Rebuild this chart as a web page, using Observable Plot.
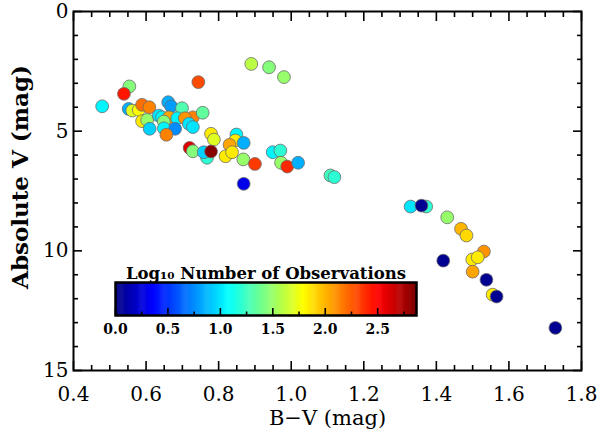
<!DOCTYPE html>
<html><head><meta charset="utf-8">
<script src="https://cdn.jsdelivr.net/npm/d3@7"></script>
<script src="https://cdn.jsdelivr.net/npm/@observablehq/plot@0.6"></script>
<style>
body{margin:0;background:#fff;}
#wrap{position:relative;width:602px;height:436px;overflow:hidden;}
#cbar{position:absolute;left:100px;top:252px;}
svg{overflow:visible;}
</style></head><body><div id="wrap"><div id="main"></div><div id="cbar"></div></div>
<script>
// B-V colour index (mag)
const bv = [0.479,0.554,0.539,0.744,0.552,0.562,0.580,0.589,0.609,0.589,0.603,0.610,0.635,0.661,0.669,0.699,0.729,0.756,0.644,0.663,0.686,0.649,0.707,0.718,0.729,0.649,0.680,0.656,0.779,0.787,0.720,0.729,0.768,0.759,0.779,0.849,0.846,0.869,0.830,0.819,0.837,0.868,0.900,0.869,0.890,0.939,0.980,0.949,0.970,0.972,0.989,1.019,1.108,1.119,1.329,1.372,1.359,1.430,1.468,1.483,1.531,1.499,1.514,1.500,1.419,1.538,1.555,1.566,1.728];
// Absolute V (mag)
const mv = [3.96,3.13,3.44,2.95,4.07,4.14,4.11,3.90,4.00,4.58,4.53,4.90,4.35,3.79,3.96,4.04,4.42,4.23,4.42,4.42,4.46,4.60,4.46,4.69,4.83,4.88,4.90,5.15,5.11,5.35,5.70,5.84,6.11,5.88,5.85,5.14,5.39,5.49,5.57,6.05,5.88,6.18,6.37,7.20,2.19,2.33,2.74,5.88,5.81,6.32,6.48,6.32,6.85,6.92,8.15,8.15,8.11,8.60,9.08,9.36,10.03,10.36,10.27,10.87,10.41,11.21,11.83,11.91,13.22];
// log10 number of observations
const logN = [1.05,1.45,2.45,2.30,0.85,1.70,1.80,2.20,2.15,1.85,1.50,0.95,1.00,0.85,0.80,1.30,2.15,1.35,1.05,2.05,1.05,1.45,2.10,1.00,1.00,1.05,0.75,2.15,1.85,1.70,2.60,1.45,1.20,0.95,2.85,1.05,1.85,0.85,2.05,1.85,1.85,1.50,2.35,0.30,1.60,1.45,1.50,1.05,1.20,1.50,2.40,0.85,1.25,1.20,1.00,1.20,0.05,1.50,2.00,1.90,2.10,1.85,1.85,2.05,0.05,0.05,1.85,0.05,0.05];

const xMajor = [0.4,0.6,0.8,1.0,1.2,1.4,1.6,1.8];
const xMinor = [0.45,0.5,0.55,0.65,0.7,0.75,0.85,0.9,0.95,1.05,1.1,1.15,1.25,1.3,1.35,1.45,1.5,1.55,1.65,1.7,1.75];
const yMajor = [0,5,10,15];
const yMinor = [1,2,3,4,6,7,8,9,11,12,13,14];
const cbarMajor = [0,0.5,1.0,1.5,2.0,2.5];
const cbarMinor = [0.25,0.75,1.25,1.75,2.25,2.75];
const cbarMax = 2.87;

const jetStops = ["#00007f","#0000ff","#0080ff","#00ffff","#80ff80","#ffff00","#ff8000","#ff0000","#7f0000"];
const jet = d3.piecewise(d3.interpolateRgb, jetStops);
const colorScale = {type:"linear", domain:[0, cbarMax], interpolate: jet};

const stars = bv.map((b,i)=>({bv:b, mv:mv[i], n:logN[i]}));
const FONT = "'DejaVu Serif', serif";

const blank = () => "";
const main = Plot.plot({
  width: 602, height: 436,
  marginLeft: 73, marginRight: 21, marginTop: 11, marginBottom: 66,
  style: {fontFamily: FONT, background: "#fff", color: "#000"},
  x: {domain:[0.4,1.8]},
  y: {domain:[0,15], reverse:true},
  color: colorScale,
  marks: [
    Plot.dot(stars, {x:"bv", y:"mv", fill:"n", r:6.4, stroke:"#6b6b6b", strokeWidth:0.8}),
    // inward ticks, all four sides
    Plot.axisX(xMajor, {anchor:"bottom", tickSize:-9, tickFormat:blank, strokeWidth:1.6, label:null}),
    Plot.axisX(xMinor, {anchor:"bottom", tickSize:-5, tickFormat:blank, strokeWidth:1.6, label:null}),
    Plot.axisX(xMajor, {anchor:"top", tickSize:-9, tickFormat:blank, strokeWidth:1.6, label:null}),
    Plot.axisX(xMinor, {anchor:"top", tickSize:-5, tickFormat:blank, strokeWidth:1.6, label:null}),
    Plot.axisY(yMajor, {anchor:"left", tickSize:-9, tickFormat:blank, strokeWidth:1.6, label:null}),
    Plot.axisY(yMinor, {anchor:"left", tickSize:-5, tickFormat:blank, strokeWidth:1.6, label:null}),
    Plot.axisY(yMajor, {anchor:"right", tickSize:-9, tickFormat:blank, strokeWidth:1.6, label:null}),
    Plot.axisY(yMinor, {anchor:"right", tickSize:-5, tickFormat:blank, strokeWidth:1.6, label:null}),
    // tick labels
    Plot.axisX(xMajor, {anchor:"bottom", tickSize:0, tickPadding:16, tickFormat:d3.format(".1f"), fontSize:20, label:null}),
    Plot.axisY(yMajor, {anchor:"left", tickSize:0, tickPadding:5, tickFormat:d3.format("d"), fontSize:20, label:null}),
    Plot.frame({stroke:"#000", strokeWidth:2}),
    Plot.text(["B\u2212V (mag)"], {frameAnchor:"bottom", dy:54, fontSize:21}),
    Plot.text(["Absolute V (mag)"], {frameAnchor:"left", textAnchor:"middle", dx:-53, dy:-14, rotate:-90, fontSize:23, fontWeight:"bold"})
  ]
});
document.getElementById("main").append(main);

const step = 0.01;
const cells = d3.range(0, cbarMax, step);
const cbar = Plot.plot({
  width: 331, height: 92,
  marginLeft: 15, marginRight: 15, marginTop: 30, marginBottom: 29,
  style: {fontFamily: FONT, background: "transparent", color:"#000", overflow:"visible"},
  x: {domain:[0, cbarMax]},
  y: {domain:[0,1], axis:null},
  color: colorScale,
  marks: [
    Plot.rect(cells, {x1:d=>d, x2:d=>Math.min(d+step*1.5, cbarMax), y1:0, y2:1, fill:d=>d+step/2}),
    Plot.axisX(cbarMajor, {anchor:"bottom", tickSize:-7, tickFormat:blank, strokeWidth:1.6, label:null}),
    Plot.axisX(cbarMinor, {anchor:"bottom", tickSize:-3.5, tickFormat:blank, strokeWidth:1.6, label:null}),
    Plot.axisX(cbarMajor, {anchor:"bottom", tickSize:0, tickPadding:9, tickFormat:d3.format(".1f"), fontSize:14, fontWeight:"bold", label:null}),
    Plot.frame({stroke:"#000", strokeWidth:2.5}),
    Plot.text(["Log\u2081\u2080 Number of Observations"], {frameAnchor:"top", dy:-15, fontSize:16.5, fontWeight:"bold"})
  ]
});
document.getElementById("cbar").append(cbar);
</script></body></html>
